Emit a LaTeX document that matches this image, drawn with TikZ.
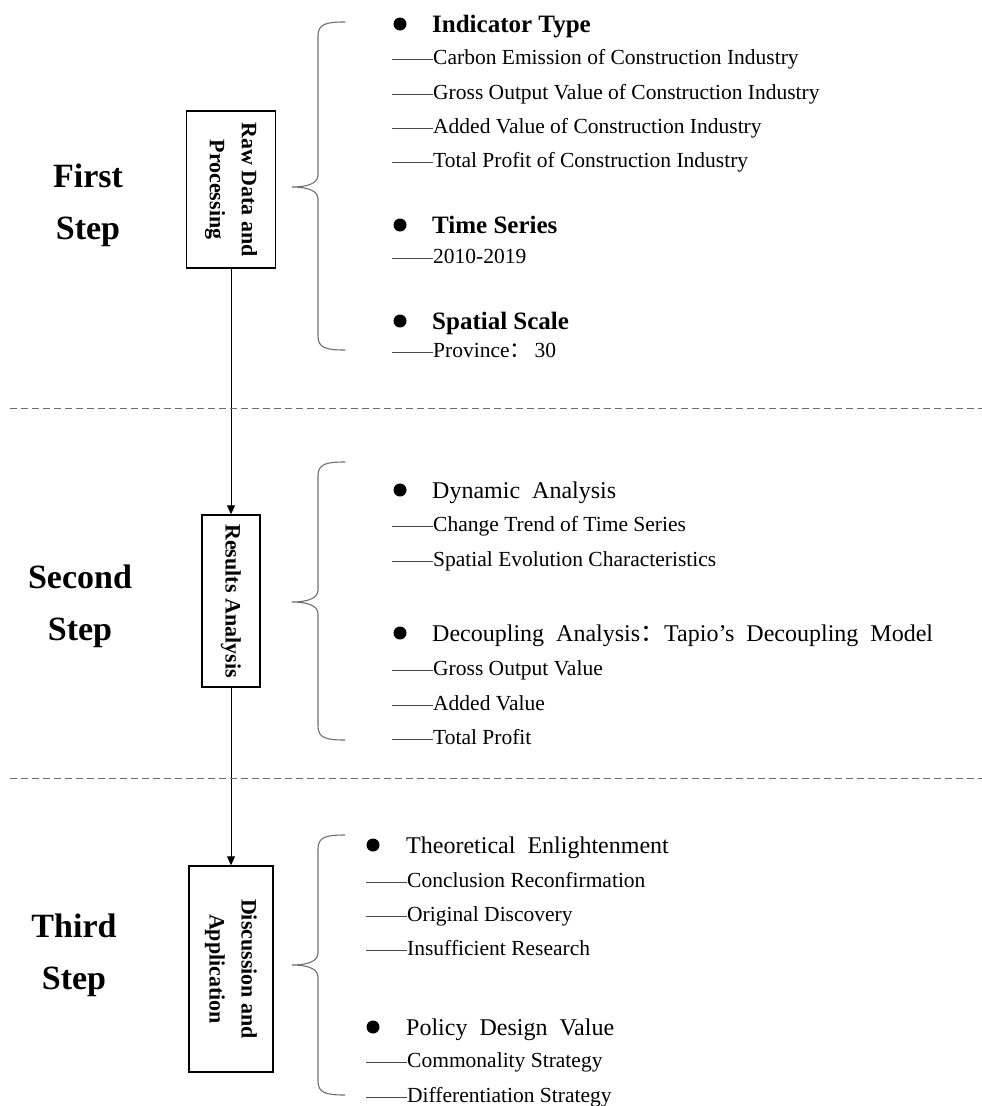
\documentclass[tikz,border=0pt]{standalone}
\usepackage{fontspec}
\setmainfont{Liberation Serif}
\newfontfamily\cjkfont{Noto Sans CJK SC}
\usetikzlibrary{arrows.meta,positioning,calc}
\definecolor{rmLine}{HTML}{4A4A4A}
\definecolor{rmMute}{HTML}{6E6E6E}
\tikzset{
  stepname/.style={font=\fontsize{34}{52}\selectfont\bfseries, align=center, inner sep=0pt},
  stepbox/.style={draw, line width=1.4pt, rotate=-90, inner sep=2pt,
    font=\fontsize{22}{32}\selectfont\bfseries, align=center},
  dot/.style={circle, fill, inner sep=0pt, minimum size=13pt},
  headbold/.style={anchor=west, inner sep=0pt, text height=18pt, text depth=1.5pt,
    font=\fontsize{25}{28}\selectfont\bfseries},
  headplain/.style={anchor=west, inner sep=0pt, text height=17.5pt, text depth=1.5pt,
    font=\fontsize{24}{28}\selectfont},
  subitem/.style={anchor=west, inner sep=0pt, text height=15pt, text depth=4pt,
    font=\fontsize{21.5}{24}\selectfont},
  leader/.style={line width=0.8pt, rmLine},
  divider/.style={line width=0.8pt, rmMute, dash pattern=on 7pt off 4pt},
  flow/.style={-{Triangle[length=9pt,width=8pt]}, line width=0.9pt},
  bracket/.style={line width=1.1pt, rmMute}
}
% curly brace opening to the right: top, tip, bottom
\newcommand{\drawbrace}[3]{%
  \draw[bracket] (345,#1) .. controls (326,#1) and (318,#1+2) .. (318,#1+14)
    -- (318,#2-12) .. controls (318,#2-3) and (306,#2) .. (292,#2)
    .. controls (306,#2) and (318,#2+3) .. (318,#2+12)
    -- (318,#3-14) .. controls (318,#3-2) and (326,#3) .. (345,#3);}

\begin{document}
\begin{tikzpicture}[x=1pt, y=-1pt]
  \useasboundingbox (0,0) rectangle (982,1106);

  % step labels
  \node[stepname] (first) at (88,205) {First\\Step};
  \node[stepname] (second) at (80,606) {Second\\Step};
  \node[stepname] (third) at (74,955) {Third\\Step};

  % flow boxes
  \node[stepbox, minimum width=157pt, minimum height=89pt] (raw) at (231,189.5) {Raw Data and\\Processing};
  \node[stepbox, minimum width=172pt, minimum height=58pt] (res) at (231,601) {Results Analysis};
  \node[stepbox, minimum width=206pt, minimum height=84pt] (disc) at (231,969) {Discussion and\\Application};
  \draw[flow] (raw) -- (res);
  \draw[flow] (res) -- (disc);

  % dividers
  \coordinate (dl1) at (10,408);
  \coordinate (dr1) at (982,408);
  \coordinate (dl2) at (10,778);
  \coordinate (dr2) at (982,778);
  \draw[divider] (dl1) -- (dr1);
  \draw[divider] (dl2) -- (dr2);

  % braces
  \drawbrace{22}{187}{350}
  \drawbrace{462}{602}{740}
  \drawbrace{835}{965}{1095}

  % first step contents
  \node[dot] (d1) at (400,24) {};
  \node[headbold] (h1) at (432,24) {Indicator Type};
  \foreach \yy/\txt [count=\i] in {59/Carbon Emission of Construction Industry,
      94/Gross Output Value of Construction Industry,
      128/Added Value of Construction Industry,
      162/Total Profit of Construction Industry}{
    \node[subitem] (ind\i) at (433,\yy) {\txt};
    \draw[leader] (ind\i.west) -- ++(-41,0);
  }
  \node[dot] (d2) at (400,225) {};
  \node[headbold] (h2) at (432,225) {Time Series};
  \node[subitem] (yrs) at (433,258) {2010-2019};
  \draw[leader] (yrs.west) -- ++(-41,0);
  \node[dot] (d3) at (400,321) {};
  \node[headbold] (h3) at (432,321) {Spatial Scale};
  \node[subitem] (prov) at (433,352) {Province{\cjkfont ：}\,30};
  \draw[leader] (prov.west) -- ++(-41,0);

  % second step contents
  \node[dot] (d4) at (400,490) {};
  \node[headplain] (h4) at (432,490) {Dynamic\ \ Analysis};
  \foreach \yy/\txt [count=\i] in {526/Change Trend of Time Series,
      561/Spatial Evolution Characteristics}{
    \node[subitem] (dyn\i) at (433,\yy) {\txt};
    \draw[leader] (dyn\i.west) -- ++(-41,0);
  }
  \node[dot] (d5) at (400,633) {};
  \node[headplain] (h5) at (432,633) {Decoupling\ \ Analysis{\cjkfont ：}Tapio’s\ \ Decoupling\ \ Model};
  \foreach \yy/\txt [count=\i] in {670/Gross Output Value,
      705/Added Value,
      739/Total Profit}{
    \node[subitem] (dec\i) at (433,\yy) {\txt};
    \draw[leader] (dec\i.west) -- ++(-41,0);
  }

  % third step contents
  \node[dot] (d6) at (373,845) {};
  \node[headplain] (h6) at (406,845) {Theoretical\ \ Enlightenment};
  \foreach \yy/\txt [count=\i] in {882/Conclusion Reconfirmation,
      916/Original Discovery,
      950/Insufficient Research}{
    \node[subitem] (the\i) at (407,\yy) {\txt};
    \draw[leader] (the\i.west) -- ++(-41,0);
  }
  \node[dot] (d7) at (373,1027) {};
  \node[headplain] (h7) at (406,1027) {Policy\ \ Design\ \ Value};
  \foreach \yy/\txt [count=\i] in {1062/Commonality Strategy,
      1097/Differentiation Strategy}{
    \node[subitem] (pol\i) at (407,\yy) {\txt};
    \draw[leader] (pol\i.west) -- ++(-41,0);
  }
\end{tikzpicture}
\end{document}
